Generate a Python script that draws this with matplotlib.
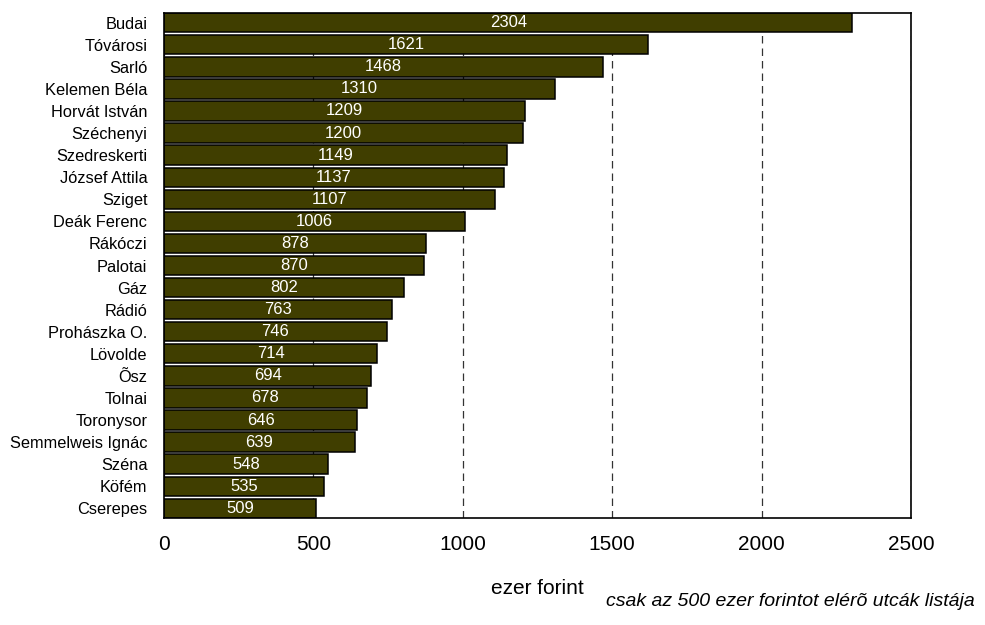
import matplotlib
matplotlib.use('Agg')
import matplotlib.pyplot as plt
import numpy as np

plt.rcParams['font.family'] = ['Liberation Sans Narrow', 'Liberation Sans', 'DejaVu Sans']

# utcák és értékek (ezer forint)
utcak = ['Budai', 'Tóvárosi', 'Sarló', 'Kelemen Béla', 'Horvát István', 'Széchenyi',
         'Szedreskerti', 'József Attila', 'Sziget', 'Deák Ferenc', 'Rákóczi', 'Palotai',
         'Gáz', 'Rádió', 'Prohászka O.', 'Lövolde', 'Õsz', 'Tolnai', 'Toronysor',
         'Semmelweis Ignác', 'Széna', 'Köfém', 'Cserepes']
ertekek = [2304, 1621, 1468, 1310, 1209, 1200, 1149, 1137, 1107, 1006, 878, 870,
           802, 763, 746, 714, 694, 678, 646, 639, 548, 535, 509]
x_ticks = [0, 500, 1000, 1500, 2000, 2500]

fig = plt.figure(figsize=(9.85, 6.25), dpi=100)
ax = fig.add_axes([0.1665, 0.1712, 0.7584, 0.808])

y = np.arange(len(utcak))
h = 0.88
ax.barh(y, ertekek, height=h, color='#403e00', edgecolor='black', linewidth=1.1, zorder=2)
for yi, v in zip(y, ertekek):
    ax.text(v / 2, yi, str(v), ha='center', va='center', color='white', fontsize=12, zorder=3)

ax.set_ylim(len(utcak) - 1 + h / 2, -h / 2)
ax.set_xlim(0, 2500)
ax.set_yticks(y)
ax.set_yticklabels(utcak, fontsize=11.8)
ax.set_xticks(x_ticks)
ax.set_xticklabels([str(t) for t in x_ticks], fontsize=15)
ax.tick_params(axis='both', length=0)
ax.tick_params(axis='x', pad=12)
ax.tick_params(axis='y', pad=12)
ax.xaxis.grid(True, linestyle=(0, (6, 4)), color='#333333', linewidth=0.9, zorder=0)
ax.set_axisbelow(True)
for s in ax.spines.values():
    s.set_linewidth(1.2)

ax.set_xlabel('ezer forint', fontsize=15, va='center')
ax.xaxis.set_label_coords(0.5, -0.139)
fig.text(0.99, 0.038, 'csak az 500 ezer forintot elérõ utcák listája', ha='right', va='center',
         fontsize=14, style='italic')

fig.savefig('out.png', dpi=100)
